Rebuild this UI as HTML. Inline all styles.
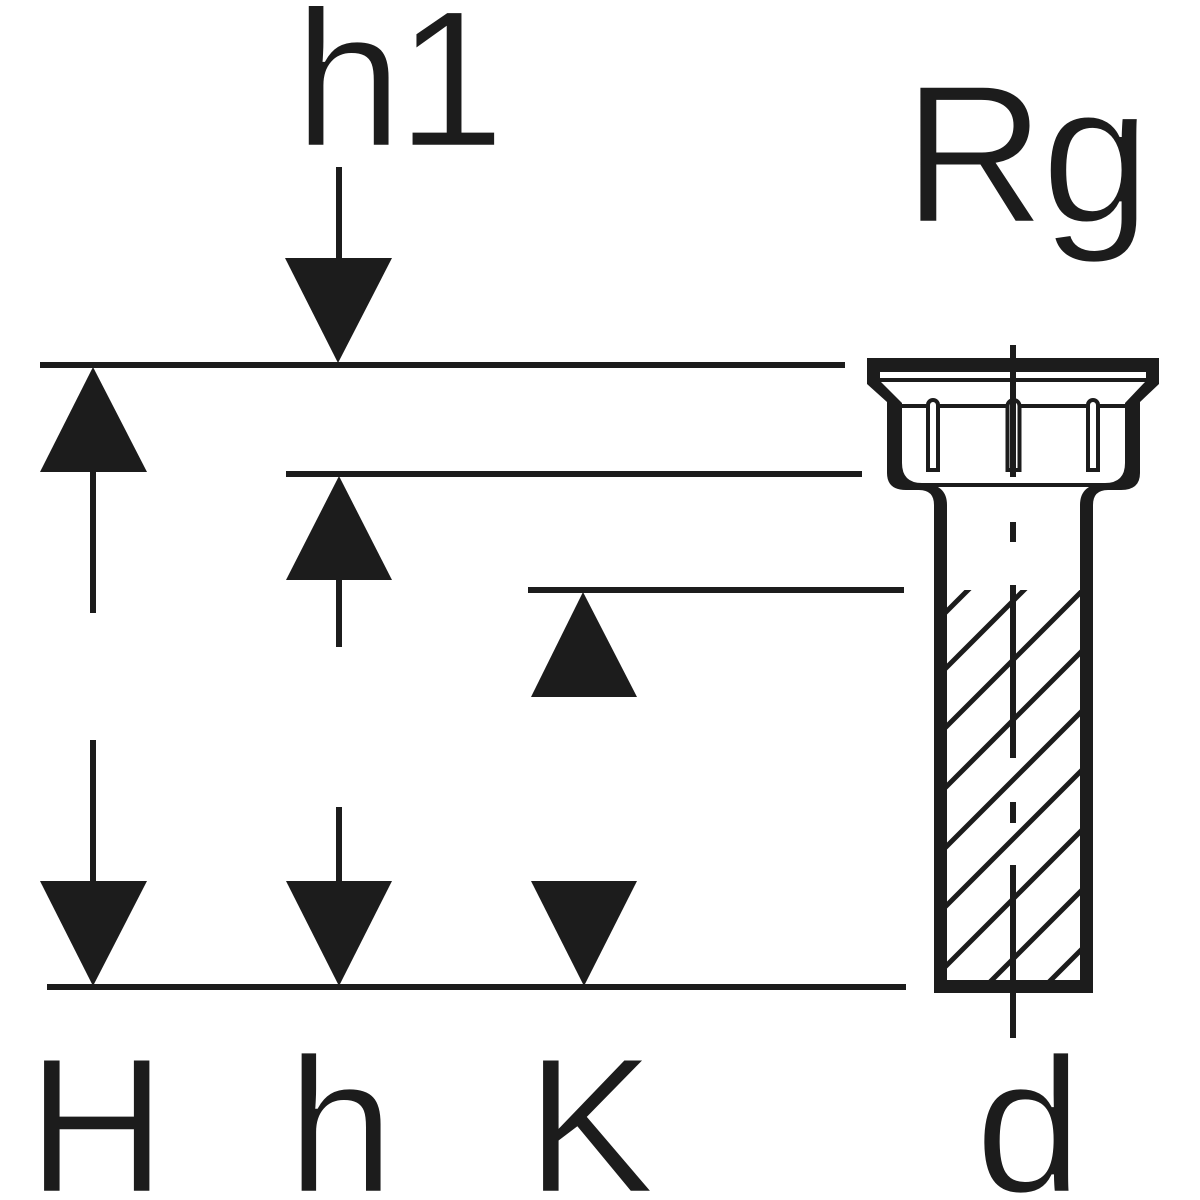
<!DOCTYPE html>
<html>
<head>
<meta charset="utf-8">
<style>
  html, body { margin:0; padding:0; background:#ffffff; }
  body { width:1200px; height:1200px; overflow:hidden; }
  svg { display:block; }
  text { font-family: "Liberation Sans", Arial, sans-serif; fill:#1c1c1c; stroke:#ffffff; stroke-width:2.5px; }
</style>
</head>
<body>
<svg width="1200" height="1200" viewBox="0 0 1200 1200" xmlns="http://www.w3.org/2000/svg">
  <defs>
    <clipPath id="pipeClip">
      <rect x="947" y="590" width="133" height="390"/>
    </clipPath>
  </defs>
  <rect x="0" y="0" width="1200" height="1200" fill="#ffffff"/>

  <!-- Labels -->
  <text x="294" y="146" font-size="195" letter-spacing="-6">h1</text>
  <text x="903" y="222" font-size="197" letter-spacing="-4">Rg</text>
  <text x="27" y="1192" font-size="193">H</text>
  <text x="287" y="1192" font-size="193">h</text>
  <text x="526" y="1192" font-size="193">K</text>
  <text x="975" y="1192" font-size="193">d</text>

  <g fill="#1c1c1c">
    <!-- Dimension lines -->
    <rect x="40" y="362" width="805" height="6"/>
    <rect x="286" y="471" width="576" height="6"/>
    <rect x="528" y="587" width="376" height="6"/>
    <rect x="47" y="984" width="859" height="6"/>

    <!-- h1 down arrow -->
    <rect x="336" y="167" width="6" height="92"/>
    <polygon points="285,258 392,258 338,363"/>

    <!-- H up arrow -->
    <polygon points="93,367 147,472 40,472"/>
    <rect x="90" y="471" width="6" height="142"/>

    <!-- h up arrow -->
    <polygon points="339,476 392,580 286,580"/>
    <rect x="336" y="579" width="6" height="68"/>

    <!-- K up arrow -->
    <polygon points="583,592 637,697 531,697"/>

    <!-- H down arrow -->
    <rect x="90" y="740" width="6" height="142"/>
    <polygon points="40,881 147,881 93,986"/>

    <!-- h down arrow -->
    <rect x="336" y="807" width="6" height="75"/>
    <polygon points="286,881 392,881 339,986"/>

    <!-- K down arrow -->
    <polygon points="531,881 637,881 584,986"/>
  </g>

  <!-- Fitting: black silhouette -->
  <path fill="#1c1c1c" d="M867,358 H1159 V384 L1140,402 V473 Q1140,490 1121,490 H1108 Q1093,490 1093,505 V993 H934 V505 Q934,490 919,490 H906 Q887,490 887,473 V402 L867,384 Z"/>

  <!-- top white band -->
  <rect x="880" y="372" width="266" height="6" fill="#ffffff"/>

  <!-- inner white region -->
  <path fill="#ffffff" d="M881,382 H1145 L1125,403 V463 Q1125,483 1105,483 Q1080,484 1080,505 V980 H947 V505 Q947,484 922,483 Q902,483 902,463 V403 Z"/>

  <!-- hatch lines -->
  <g clip-path="url(#pipeClip)" stroke="#1c1c1c" stroke-width="5">
    <line x1="900" y1="658" x2="1140" y2="418"/>
    <line x1="900" y1="714" x2="1140" y2="474"/>
    <line x1="900" y1="773" x2="1140" y2="533"/>
    <line x1="900" y1="833" x2="1140" y2="593"/>
    <line x1="900" y1="893" x2="1140" y2="653"/>
    <line x1="900" y1="952" x2="1140" y2="712"/>
    <line x1="900" y1="1012" x2="1140" y2="772"/>
    <line x1="900" y1="1072" x2="1140" y2="832"/>
    <line x1="900" y1="1131" x2="1140" y2="891"/>
  </g>

  <!-- inner thin horizontal lines -->
  <rect x="902" y="404" width="223" height="4" fill="#1c1c1c"/>
  <rect x="918" y="483" width="191" height="4" fill="#1c1c1c"/>

  <!-- slots -->
  <g fill="#ffffff" stroke="#1c1c1c" stroke-width="4">
    <path d="M928,470 V405 A5,5 0 0 1 938,405 V470 Z"/>
    <path d="M1007.5,470 V406 A6,6 0 0 1 1019.5,406 V470 Z"/>
    <path d="M1088,470 V405 A5,5 0 0 1 1098,405 V470 Z"/>
  </g>

  <!-- centre line -->
  <g fill="#1c1c1c">
    <rect x="1010" y="345" width="6" height="132"/>
    <rect x="1010" y="522" width="6" height="20"/>
    <rect x="1010" y="585" width="6" height="173"/>
    <rect x="1010" y="802" width="6" height="21"/>
    <rect x="1010" y="865" width="6" height="173"/>
  </g>
</svg>
</body>
</html>
